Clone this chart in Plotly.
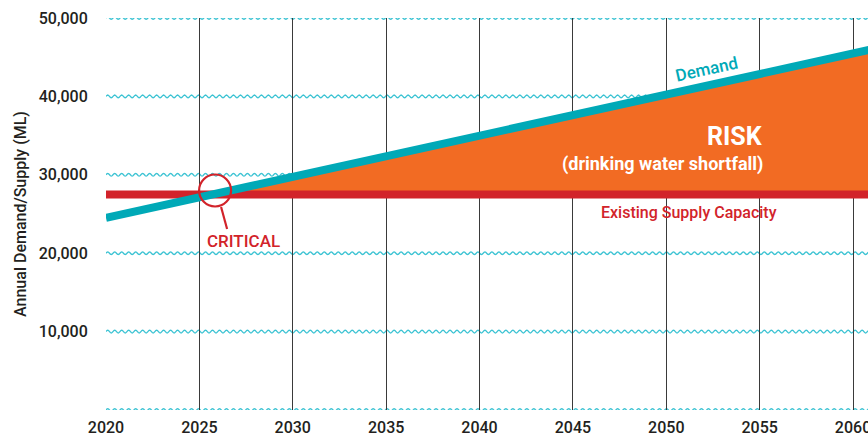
import numpy as np
import plotly.graph_objects as go

# ---- data ----
years = [2020, 2061]
demand = [24500, 46000]          # ML / year
supply = [27500, 27500]          # existing supply capacity
x_ticks = [2020, 2025, 2030, 2035, 2040, 2045, 2050, 2055, 2060]
y_ticks = [10000, 20000, 30000, 40000, 50000]
wave_levels = [0, 10000, 20000, 30000, 40000, 50000]

TEAL = "#00A9B7"
RED = "#D2232A"
ORANGE = "#F26B23"
WAVE = "#3CC3D3"
FONT = "Roboto, Liberation Sans, DejaVu Sans, sans-serif"
TXT = "#231F20"

X0, X1 = 2020, 2060.8

# crossing point of demand and supply
slope = (demand[1] - demand[0]) / (years[1] - years[0])
x_cross = years[0] + (supply[0] - demand[0]) / slope

fig = go.Figure()

# risk area
fig.add_trace(go.Scatter(x=[x_cross, years[1]], y=[supply[0], supply[1]],
                         mode="lines", line=dict(width=0, color=ORANGE),
                         hoverinfo="skip", showlegend=False))
fig.add_trace(go.Scatter(x=[x_cross, years[1]],
                         y=[supply[0], demand[1]],
                         mode="lines", line=dict(width=0, color=ORANGE),
                         fill="tonexty", fillcolor=ORANGE,
                         hoverinfo="skip", showlegend=False))
# supply line
fig.add_trace(go.Scatter(x=years, y=supply, mode="lines",
                         line=dict(color=RED, width=8),
                         name="Existing Supply Capacity", showlegend=False))
# demand line
fig.add_trace(go.Scatter(x=years, y=demand, mode="lines",
                         line=dict(color=TEAL, width=8),
                         name="Demand", showlegend=False))

# wavy horizontal gridlines (decorative)
period = 0.374
amp = 170
shapes = []
for lv in wave_levels:
    xs = np.arange(X0, X1 + period / 8, period / 8)
    ys = lv + amp * np.sin(2 * np.pi * (xs - X0) / period)
    path = "M " + " L ".join(f"{a:.4f},{b:.2f}" for a, b in zip(xs, ys))
    shapes.append(dict(type="path", path=path, xref="x", yref="y",
                       line=dict(color=WAVE, width=1.3), layer="below"))

# critical circle and pointer
cx, cy = x_cross + 0.12, supply[0] + 500
shapes.append(dict(type="circle", xref="x", yref="y",
                   xsizemode="pixel", ysizemode="pixel",
                   xanchor=cx, yanchor=cy, x0=-16, x1=16, y0=-16, y1=16,
                   line=dict(color=RED, width=2.2), layer="above"))
shapes.append(dict(type="line", xref="x", yref="y",
                   xsizemode="pixel", ysizemode="pixel",
                   xanchor=cx, yanchor=cy, x0=6, x1=12, y0=-16.5, y1=-38.5,
                   line=dict(color=RED, width=2.2), layer="above"))

annotations = [
    dict(x=2052.17, y=43495, text="Demand", showarrow=False, textangle=-12.5,
         font=dict(family=FONT, size=17, color=TEAL, weight=500)),
    dict(x=2055.28, y=34949, text="<b>RISK</b>", showarrow=False, xanchor="right",
         font=dict(family=FONT, size=25, color="white")),
    dict(x=2055.28, y=31378, text="<b>(drinking water shortfall)</b>", showarrow=False,
         xanchor="right", font=dict(family=FONT, size=18, color="white")),
    dict(x=2051.24, y=25255, text="Existing Supply Capacity", showarrow=False,
         font=dict(family=FONT, size=16, color=RED, weight=500)),
    dict(x=2027.36, y=21556, text="CRITICAL", showarrow=False,
         font=dict(family=FONT, size=17, color=RED, weight=500)),
]

fig.update_layout(
    width=868, height=438,
    margin=dict(l=106, r=0, t=18, b=28, autoexpand=False),
    paper_bgcolor="white", plot_bgcolor="white",
    font=dict(family=FONT, color=TXT),
    shapes=shapes, annotations=annotations,
    showlegend=False,
)
fig.update_xaxes(range=[X0, X1], tickvals=x_ticks, ticktext=[str(v) for v in x_ticks],
                 showgrid=True, gridcolor="#3a3a3a", gridwidth=1,
                 zeroline=False, showline=False,
                 ticks="outside", ticklen=3, tickcolor="rgba(0,0,0,0)",
                 ticklabeloverflow="allow",
                 tickfont=dict(size=16, color=TXT, weight=500), automargin=False)
fig.update_yaxes(range=[0, 50000], tickvals=y_ticks, tickformat=",d",
                 showgrid=False, zeroline=False, showline=False,
                 ticks="outside", ticklen=14, tickcolor="rgba(0,0,0,0)",
                 tickfont=dict(size=16, color=TXT, weight=500),
                 title=dict(text="Annual Demand/Supply (ML)", standoff=8,
                            font=dict(size=16, color=TXT, weight=500)),
                 automargin=False)

fig.write_html("out.html", config={"displayModeBar": False},
               post_script="document.body.style.margin='0';document.body.style.padding='0';")
